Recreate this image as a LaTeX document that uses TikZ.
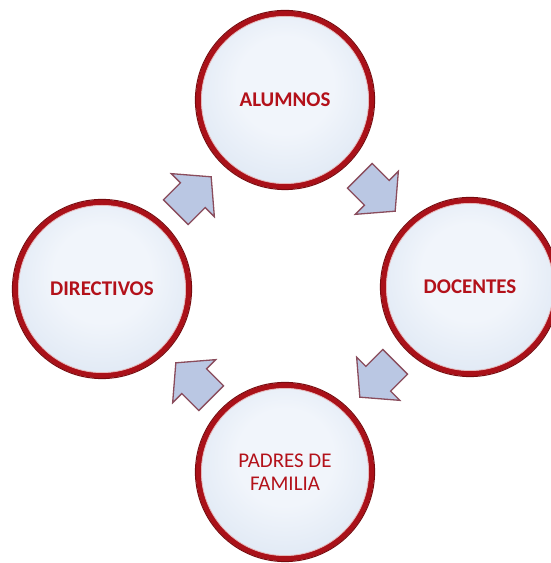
\documentclass[tikz,border=0pt]{standalone}
\usepackage{fontspec}
\setmainfont{Carlito}
\usetikzlibrary{calc}
\definecolor{ring}{HTML}{AA1119}
\definecolor{ringdark}{HTML}{780A0E}
\definecolor{txt}{HTML}{B3111A}
\definecolor{fillin}{HTML}{F1F5FB}
\definecolor{fillmid}{HTML}{DCE6F3}
\definecolor{fillout}{HTML}{C6D6EC}
\definecolor{fillrim}{HTML}{E4ECF6}
\definecolor{arrfill}{HTML}{BAC7E3}
\definecolor{arrdraw}{HTML}{8A4C5C}
\pgfdeclareradialshading{bubshade}{\pgfpoint{0bp}{6bp}}{%
  color(0bp)=(fillin); color(14bp)=(fillin); color(32bp)=(fillmid); color(44bp)=(fillout);
  color(48bp)=(fillrim); color(50bp)=(fillout)}
\tikzset{
  bubble/.style={circle, minimum size=173bp, inner sep=0pt, shading=bubshade,
    draw=ring, line width=5.5bp, font=\bfseries\fontsize{21}{23}\selectfont, text=txt, align=center},
  innerring/.style={draw=ring!30!white, line width=0.8bp},
  outerring/.style={draw=ringdark, line width=1bp},
  blockarrow/.style={fill=arrfill, draw=arrdraw, line width=1.3bp, line join=miter},
  pics/blockarr/.style={code={
    \draw[blockarrow] (-25,-17.5) -- (-1,-17.5) -- (-1,-30.5) -- (25,0) -- (-1,30.5) -- (-1,17.5) -- (-25,17.5) -- cycle;}}
}
\begin{document}
\begin{tikzpicture}[x=1bp,y=1bp]
\useasboundingbox (0,0) rectangle (551,563);
\node[bubble] (alu) at (285,463) {ALUMNOS};
\node[bubble] (dir) at (102,274) {DIRECTIVOS};
\node[bubble] (doc) at (470,276) {DOCENTES};
\node[bubble, font=\mdseries\fontsize{21}{23}\selectfont] (pad) at (285,91) {PADRES DE\\FAMILIA};
\foreach \n in {alu,dir,doc,pad}{
  \draw[innerring] (\n.center) circle[radius=83.6];
  \draw[outerring] (\n.center) circle[radius=89.6];
}
\pic[rotate=45] (a1) at ($(dir)!0.5!(alu)$) {blockarr};
\pic[rotate=-45] (a2) at ($(alu)!0.5!(doc)$) {blockarr};
\pic[rotate=-135] (a3) at ($(doc)!0.5!(pad)$) {blockarr};
\pic[rotate=135] (a4) at ($(pad)!0.5!(dir)$) {blockarr};
\end{tikzpicture}
\end{document}
